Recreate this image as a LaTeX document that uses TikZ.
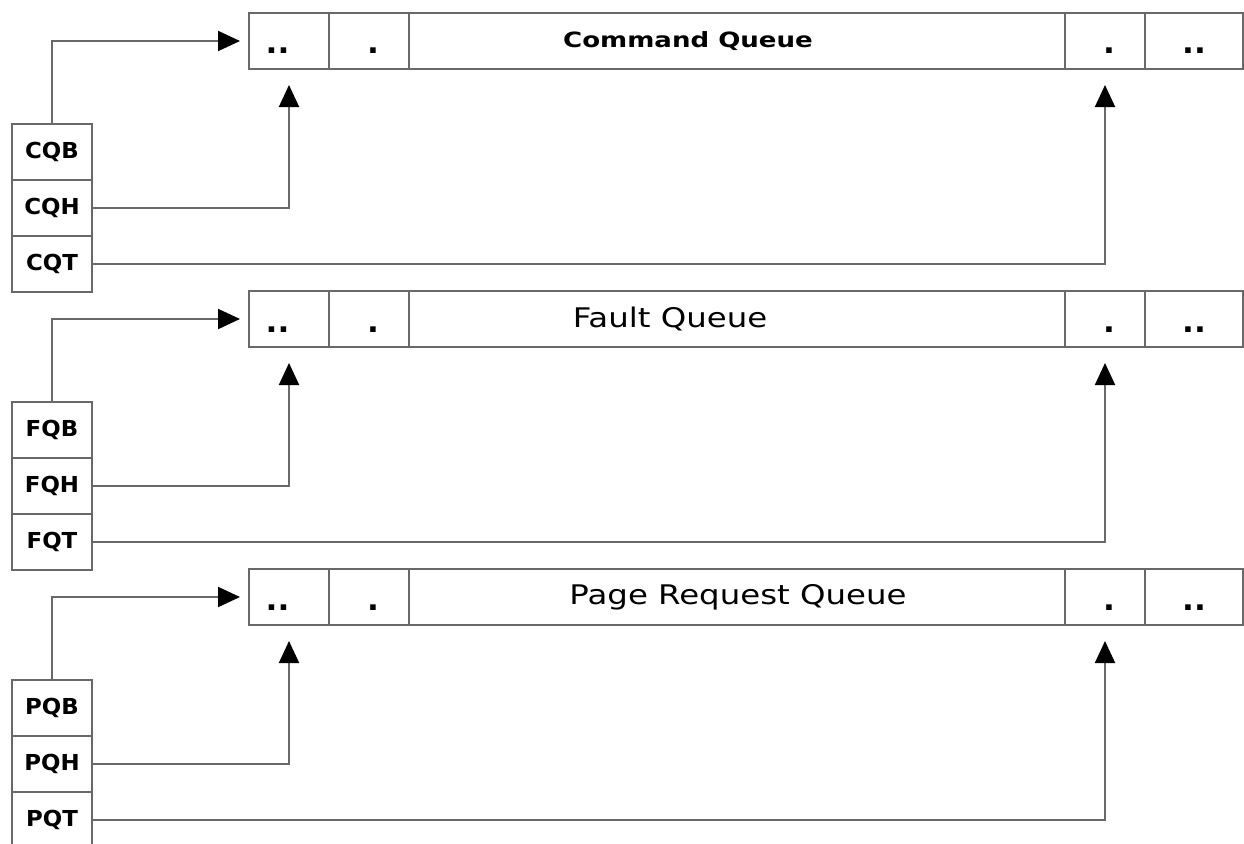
\documentclass[tikz,border=0pt]{standalone}
\usepackage{fontspec}
\setmainfont{DejaVu Sans}
\newfontfamily\titlereg[FakeStretch=1.2]{DejaVu Sans}
\newfontfamily\titlebold[FakeStretch=1.24]{DejaVu Sans Bold}
\newfontfamily\labelbold[FakeStretch=1.04]{DejaVu Sans Bold}
\newcommand\lowdots[1]{\raisebox{-13pt}[0pt][0pt]{#1}}
\usetikzlibrary{arrows.meta}
\definecolor{ln}{RGB}{105,105,105}
\begin{document}
\begin{tikzpicture}[x=1pt,y=-1pt,
  cellbox/.style={draw=ln,line width=2pt,inner sep=0pt,outer sep=0pt,minimum height=56pt,anchor=north west,font=\labelbold\fontsize{22}{24}\selectfont},
  dotbox/.style={cellbox,font=\labelbold\fontsize{30}{32}\selectfont},
  boldtitle/.style={inner sep=0pt,font=\titlebold\fontsize{21}{24}\selectfont},
  regtitle/.style={inner sep=0pt,font=\titlereg\fontsize{27}{30}\selectfont},
  conn/.style={draw=ln,line width=2pt,-{Triangle[length=22pt,width=20pt,black]}}
]
\useasboundingbox (0,0) rectangle (1244,843);
\clip (0,0) rectangle (1244,843);
\foreach \i/\p/\t/\st/\tx in {0/C/Command Queue/boldtitle/688,1/F/Fault Queue/regtitle/670,2/P/Page Request Queue/regtitle/738}{
  \pgfmathsetmacro\qy{13+278*\i}
  \pgfmathsetmacro\sy{124+278*\i}
  \node[dotbox,minimum width=80pt] (q\p1) at (249,\qy) {\lowdots{..\hspace{23pt}}};
  \node[dotbox,minimum width=80pt] (q\p2) at (329,\qy) {\lowdots{\hspace{8pt}.}};
  \node[cellbox,minimum width=656pt] (q\p3) at (409,\qy) {};
  \node[dotbox,minimum width=80pt] (q\p4) at (1065,\qy) {\lowdots{\hspace{8pt}.}};
  \node[dotbox,minimum width=98pt] (q\p5) at (1145,\qy) {\lowdots{..}};
  \node[\st] (t\p) at (\tx,\qy+28) {\t};
  \node[cellbox,minimum width=80pt] (s\p b) at (12,\sy) {\p QB};
  \node[cellbox,minimum width=80pt] (s\p h) at (12,\sy+56) {\p QH};
  \node[cellbox,minimum width=80pt] (s\p t) at (12,\sy+112) {\p QT};
  \draw[conn] (s\p b.north) |- ([xshift=-9pt]q\p1.west);
  \draw[conn] (s\p h.east) -| ([yshift=-16pt]q\p1.south);
  \draw[conn] (s\p t.east) -| ([yshift=-16pt]q\p4.south);
}
\end{tikzpicture}
\end{document}
